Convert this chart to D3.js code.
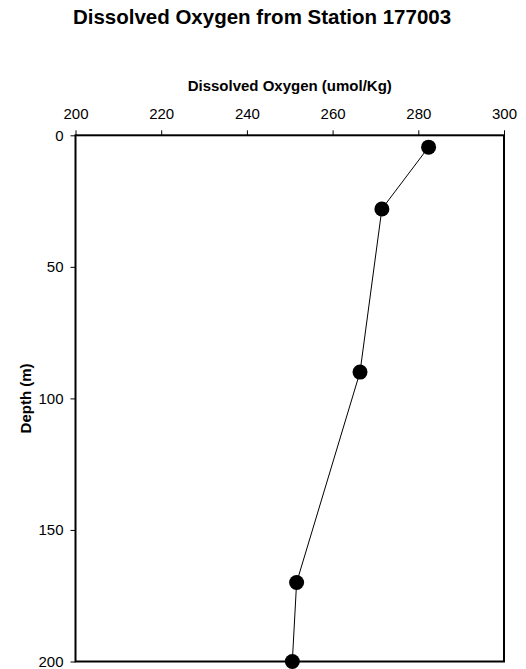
<!DOCTYPE html>
<html>
<head>
<meta charset="utf-8">
<script src="https://cdn.jsdelivr.net/npm/d3@7"></script>
<style>
  body { margin: 0; background: #fff; }
  svg text { font-family: 'Liberation Sans', Arial, sans-serif; fill: #000; }
</style>
</head>
<body>
<div id="chart"></div>
<script>
// station 177003 profile
const depth = [4.5, 28, 90, 170, 200];
const oxygen = [282.4, 271.5, 266.4, 251.6, 250.6];
const xTicks = [200, 220, 240, 260, 280, 300];
const yTicks = [0, 50, 100, 150, 200];

const width = 526, height = 669;
const plotLeft = 75.5, plotRight = 504, plotTop = 135.3, plotBottom = 661.5;

const svg = d3.select('#chart').append('svg')
    .attr('width', width)
    .attr('height', height);

const x = d3.scaleLinear().domain([200, 300]).range([plotLeft, plotRight]);
const y = d3.scaleLinear().domain([0, 200]).range([plotTop, plotBottom]);

// title
svg.append('text')
    .attr('x', 262)
    .attr('y', 23.5)
    .attr('text-anchor', 'middle')
    .style('font-size', '20.5px')
    .style('font-weight', 'bold')
    .text('Dissolved Oxygen from Station 177003');

// top axis
const xAxis = svg.append('g')
    .attr('transform', `translate(0,${plotTop})`)
    .call(d3.axisTop(x).tickValues(xTicks).tickSize(5).tickPadding(11).tickFormat(d3.format('d')));
xAxis.select('.domain').remove();
xAxis.selectAll('text').style('font-size', '15px');
xAxis.attr('font-family', null).attr('font-size', null);

// left axis
const yAxis = svg.append('g')
    .attr('transform', `translate(${plotLeft},0)`)
    .call(d3.axisLeft(y).tickValues(yTicks).tickSize(5).tickPadding(7).tickFormat(d3.format('d')));
yAxis.select('.domain').remove();
yAxis.selectAll('text').style('font-size', '15px');
yAxis.attr('font-family', null).attr('font-size', null);

// axis titles
svg.append('text')
    .attr('x', (plotLeft + plotRight) / 2)
    .attr('y', 90.7)
    .attr('text-anchor', 'middle')
    .style('font-size', '15px')
    .style('font-weight', 'bold')
    .text('Dissolved Oxygen (umol/Kg)');

svg.append('text')
    .attr('transform', `translate(30.5,${(plotTop + plotBottom) / 2}) rotate(-90)`)
    .attr('text-anchor', 'middle')
    .style('font-size', '15px')
    .style('font-weight', 'bold')
    .text('Depth (m)');

// plot frame
svg.append('rect')
    .attr('x', plotLeft)
    .attr('y', plotTop)
    .attr('width', plotRight - plotLeft)
    .attr('height', plotBottom - plotTop)
    .attr('fill', 'none')
    .attr('stroke', '#000')
    .attr('stroke-width', 2);

const points = depth.map((d, i) => ({ depth: d, oxygen: oxygen[i] }));

svg.append('path')
    .datum(points)
    .attr('fill', 'none')
    .attr('stroke', '#000')
    .attr('stroke-width', 1)
    .attr('d', d3.line().x(d => x(d.oxygen)).y(d => y(d.depth)));

svg.selectAll('circle').data(points).enter().append('circle')
    .attr('cx', d => x(d.oxygen))
    .attr('cy', d => y(d.depth))
    .attr('r', 7.5)
    .attr('fill', '#000');
</script>
</body>
</html>
